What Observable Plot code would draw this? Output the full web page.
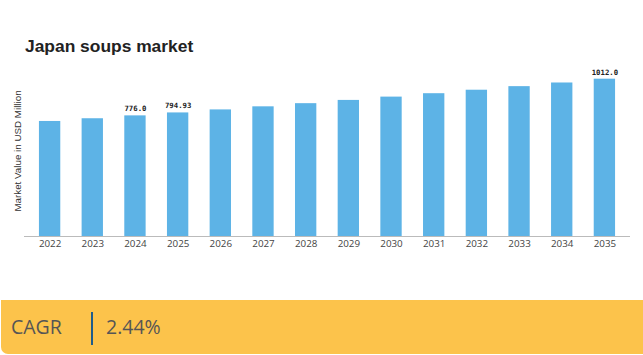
<!DOCTYPE html>
<html>
<head>
<meta charset="utf-8">
<script src="https://cdn.jsdelivr.net/npm/d3@7"></script>
<script src="https://cdn.jsdelivr.net/npm/@observablehq/plot@0.6"></script>
<style>
  html, body { margin: 0; padding: 0; background: #fff; }
  #wrap { position: relative; width: 643px; height: 355px; overflow: hidden; }
  #title { position: absolute; left: 25px; top: 36px; font: bold 17.4px "Liberation Sans", Arial, sans-serif; color: #222; white-space: nowrap; }
  #chart { position: absolute; left: 0; top: 0; }
  #band { position: absolute; left: 1px; top: 300px; width: 642px; height: 54px; background: #FCC34B; border-bottom-left-radius: 7px; font-family: "Open Sans", sans-serif; color: #555; }
  #band .k { position: absolute; left: 10px; top: 14px; font-size: 19.5px; line-height: 1.3; }
  #band .div { position: absolute; left: 90px; top: 12px; width: 1.5px; height: 33px; background: #1F5C8B; }
  #band .v { position: absolute; left: 105px; top: 14px; font-size: 19.5px; line-height: 1.3; }
</style>
</head>
<body>
<div id="wrap">
  <div id="chart"></div>
  <div id="title"></div>
  <div id="band"><span class="k"></span><span class="div"></span><span class="v"></span></div>
</div>
<script>
const title = "Japan soups market";
const yLabel = "Market Value in USD Million";
const years = ["2022","2023","2024","2025","2026","2027","2028","2029","2030","2031","2032","2033","2034","2035"];
const values = [740.0, 757.5, 776.0, 794.93, 814.3, 834.2, 854.5, 875.4, 896.7, 918.6, 941.0, 964.0, 987.5, 1012.0];
const valueLabels = ["", "", "776.0", "794.93", "", "", "", "", "", "", "", "", "", "1012.0"];
const cagrLabel = "CAGR";
const cagrValue = "2.44%";

document.getElementById("title").textContent = title;
document.querySelector("#band .k").textContent = cagrLabel;
document.querySelector("#band .v").textContent = cagrValue;

const data = years.map((y, i) => ({year: y, value: values[i], label: valueLabels[i]}));

const chart = Plot.plot({
  width: 643,
  height: 300,
  marginLeft: 24,
  marginRight: 13,
  marginTop: 65,
  marginBottom: 64,
  style: {background: "transparent", fontFamily: "'Open Sans', sans-serif"},
  x: {domain: years, paddingInner: 0.5, paddingOuter: 0.35, round: false, label: null},
  y: {domain: [0, 1100], axis: null},
  marks: [
    Plot.barY(data, {x: "year", y: "value", fill: "#5DB3E6"}),
    Plot.ruleY([0], {stroke: "#bbb", strokeWidth: 1}),
    Plot.axisX({tickSize: 0, tickPadding: 4, fontSize: 9.8, color: "#444", label: null}),
    Plot.text(data.filter(d => d.label), {x: "year", y: "value", text: "label", dy: -7,
      fontFamily: "'DejaVu Sans Mono', monospace", fontWeight: "bold", fontSize: 7.3, fill: "#222"}),
    Plot.text([yLabel], {frameAnchor: "left", textAnchor: "middle", rotate: -90, dx: -7, fontSize: 9.8,
      fontFamily: "'Liberation Sans', Arial, sans-serif", fill: "#333"})
  ]
});
document.getElementById("chart").appendChild(chart);
</script>
</body>
</html>
